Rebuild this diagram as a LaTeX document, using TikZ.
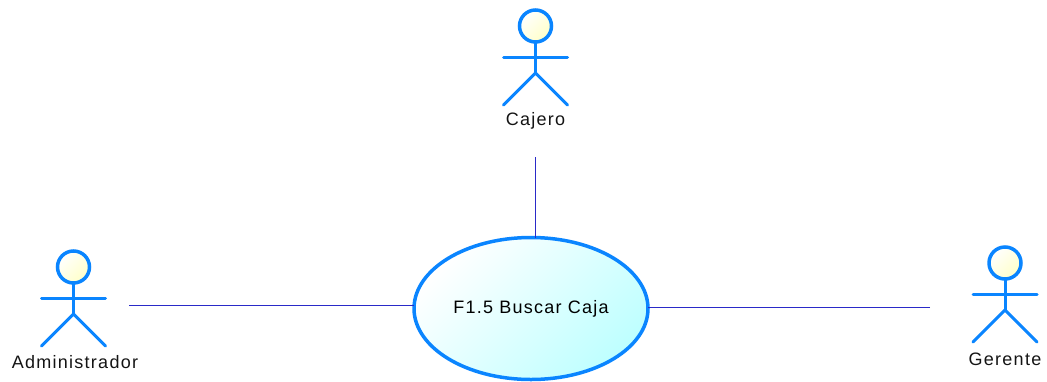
\documentclass[tikz,border=0pt]{standalone}
\usepackage{fontspec}
\setmainfont{Liberation Sans}[LetterSpace=7]
\usetikzlibrary{shapes.geometric}
\definecolor{actorblue}{HTML}{0A85FF}
\definecolor{linkblue}{HTML}{2A2AC8}
\definecolor{headyellow}{HTML}{FFFFC8}
\definecolor{casecyan}{HTML}{BEFFFF}
\tikzset{
  x=1pt,y=-1pt,
  limb/.style={draw=actorblue,line width=3pt},
  actorhead/.style={circle,draw=actorblue,line width=3.5pt,minimum size=32pt,inner sep=0pt,outer sep=0pt,
    shade,shading=axis,top color=white,bottom color=headyellow,shading angle=45},
  usecase/.style={ellipse,draw=actorblue,line width=3.5pt,minimum width=234pt,minimum height=142pt,inner sep=0pt,outer sep=0pt,
    shade,shading=axis,top color=white,bottom color=casecyan,shading angle=45,
    font=\fontsize{18pt}{20pt}\selectfont},
  actorlabel/.style={font=\fontsize{18pt}{20pt}\selectfont,inner sep=0pt,text=black!92},
  link/.style={draw=linkblue,line width=0.8pt},
  pics/actor/.style={code={
    \node[actorhead] (-head) at (0,0) {};
    \draw[limb] (-head.south) -- (0,47);
    \draw[limb,line cap=round] (-32,31.5) -- (32,31.5);
    \draw[limb,line cap=round,line join=miter] (-32,79) -- (0,47) -- (32,79);
  }}
}
\begin{document}
\begin{tikzpicture}
\useasboundingbox (0,0) rectangle (1047,381);
\pic (caj) at (535.5,26) {actor};
\pic (adm) at (73.5,267) {actor};
\pic (ger) at (1005,263) {actor};
\node[actorlabel] (cajlabel) at (535.5,121) {Cajero};
\node[actorlabel] (admlabel) at (75,362) {Administrador};
\node[actorlabel] (gerlabel) at (1005,359) {Gerente};
\node[usecase] (uc) at (531,308.5) {F1.5 Buscar Caja};
\coordinate (cajend) at (535.5,157);
\coordinate (admend) at (129,305.5);
\coordinate (gerend) at (930,307.5);
\draw[link] (cajend) -- (cajend |- uc.north);
\draw[link] (admend) -- (admend -| uc.west);
\draw[link] (gerend) -- (gerend -| uc.east);
\end{tikzpicture}
\end{document}
